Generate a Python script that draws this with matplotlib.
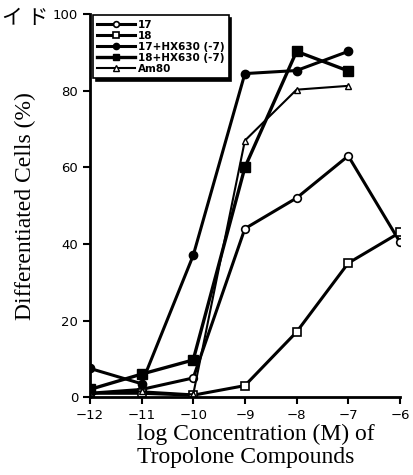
import matplotlib.pyplot as plt

x = [-12, -11, -10, -9, -8, -7, -6]

# values (%)
c17 = [1, 2, 5, 44, 52, 63, 40.5]
c18 = [1, 1, 0.5, 3, 17, 35, 43]
c17_hx = [7.5, 3.5, 37, 84.5, 85.3, 90.3]
c18_hx = [2, 6, 9.7, 60, 90.3, 85.2]
am80 = [1, 1.5, 0.7, 67, 80.3, 81.3]

labels = ["17", "18", "17+HX630 (-7)", "18+HX630 (-7)", "Am80"]

fig = plt.figure(figsize=(4.14, 4.75), dpi=100)
ax = fig.add_axes([0.217, 0.164, 0.749, 0.806])

ax.plot(x, c17, "-o", color="k", lw=2.2, ms=5.5, mfc="white", mew=1.2, label=labels[0])
ax.plot(x, c18, "-s", color="k", lw=2.2, ms=5.5, mfc="white", mew=1.2, label=labels[1])
ax.plot(x[:6], c17_hx, "-o", color="k", lw=2.2, ms=6, label=labels[2])
ax.plot(x[:6], c18_hx, "-s", color="k", lw=2.4, ms=6.5, label=labels[3])
ax.plot(x[:6], am80, "-^", color="k", lw=1.5, ms=5, mfc="white", mew=1.0, label=labels[4])

ax.set_xlim(-12, -6)
ax.set_ylim(0, 100)
ax.set_xticks(x)
ax.set_xticklabels(["\u221212", "\u221211", "\u221210", "\u22129", "\u22128", "\u22127", "\u22126"])
ax.set_yticks([0, 20, 40, 60, 80, 100])
for s in ["top", "right"]:
    ax.spines[s].set_visible(False)
ax.spines["left"].set_linewidth(2)
ax.spines["bottom"].set_linewidth(2)
ax.tick_params(direction="out", length=5, width=1.5, labelsize=9.5)
for t in ax.get_xticklabels() + ax.get_yticklabels():
    t.set_family(["Liberation Sans Narrow", "DejaVu Sans"])

ax.set_ylabel("Differentiated Cells (%)", family="Liberation Serif", fontsize=17)
ax.yaxis.set_label_coords(-0.175, 0.5, transform=ax.transAxes)
ax.set_xlabel("log Concentration (M) of\nTropolone Compounds", family="Liberation Serif",
              fontsize=17, linespacing=1.1, multialignment="left")
ax.xaxis.set_label_coords(0.153, -0.07, transform=ax.transAxes)
ax.xaxis.label.set_va("top")
ax.xaxis.label.set_ha("left")

leg = ax.legend(loc="upper left", bbox_to_anchor=(0.0, 1.005), frameon=True, fancybox=False,
                handlelength=3.6, handletextpad=0.3, labelspacing=0.1, borderpad=0.4,
                borderaxespad=0.3, markerscale=0.75,
                prop={"family": ["Liberation Sans Narrow", "DejaVu Sans"], "weight": "bold", "size": 7.5},
                shadow={"color": "black", "alpha": 1.0})
leg.get_frame().set_edgecolor("black")
leg.get_frame().set_linewidth(1.2)
leg.get_frame().set_alpha(1.0)

fig.text(0.005, 0.985, "イ ド", family=["Noto Sans CJK JP", "DejaVu Sans"], fontsize=15,
         va="top", ha="left")

fig.savefig("out.png", dpi=100)
